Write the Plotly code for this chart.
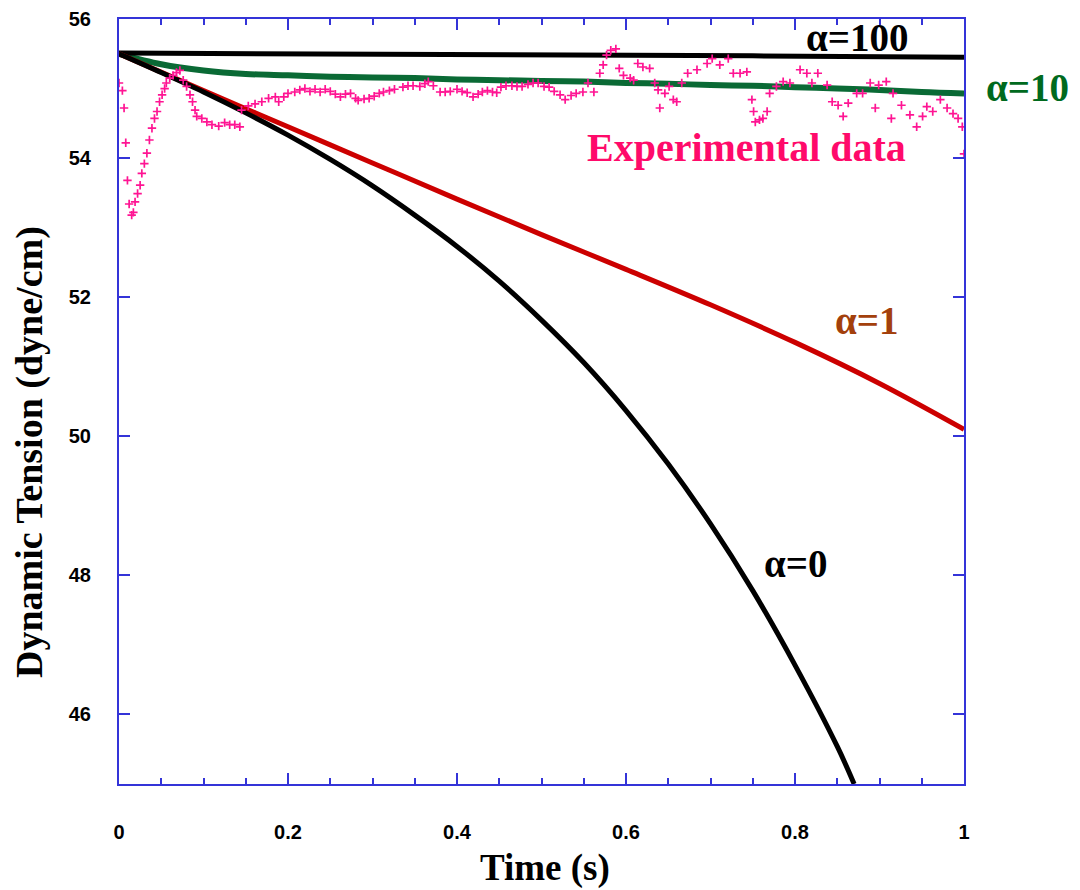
import plotly.graph_objects as go

# ---- data ----
t_grid = [0.00, 0.05, 0.10, 0.15, 0.20, 0.25, 0.30, 0.35, 0.40, 0.45, 0.50,
          0.55, 0.60, 0.65, 0.70, 0.75, 0.80, 0.85, 0.90, 0.95, 1.00]

alpha100_t = [0.0, 0.25, 0.5, 0.75, 1.0]
alpha100_y = [55.51, 55.50, 55.48, 55.47, 55.45]

alpha10_y = [55.50, 55.35, 55.26, 55.21, 55.19, 55.17, 55.16, 55.15, 55.13, 55.12, 55.11,
             55.10, 55.08, 55.07, 55.05, 55.04, 55.02, 55.00, 54.98, 54.95, 54.93]

alpha1_t = [0.0, 0.1, 0.2, 0.3, 0.4, 0.5, 0.6, 0.7, 0.8, 0.9, 1.0]
alpha1_y = [55.50, 54.97, 54.45, 53.93, 53.41, 52.90, 52.40, 51.89, 51.35, 50.76, 50.10]

alpha0_t = [0.00, 0.05, 0.10, 0.15, 0.20, 0.25, 0.30, 0.35, 0.40, 0.45, 0.50,
            0.55, 0.60, 0.65, 0.70, 0.75, 0.80, 0.85, 0.87]
alpha0_y = [55.50, 55.23, 54.95, 54.65, 54.33, 53.98, 53.60, 53.18, 52.73, 52.23, 51.67,
            51.06, 50.37, 49.60, 48.74, 47.78, 46.71, 45.54, 45.00]

exp_t = [0.000, 0.004, 0.006, 0.008, 0.010, 0.012, 0.015, 0.017, 0.019, 0.022, 0.025,
         0.027, 0.030, 0.033, 0.036, 0.039, 0.042, 0.045, 0.048, 0.051, 0.054, 0.056,
         0.060, 0.064, 0.068, 0.072, 0.076, 0.080, 0.084, 0.087, 0.090, 0.092, 0.098,
         0.104, 0.110, 0.118, 0.125, 0.131, 0.137, 0.143, 0.145, 0.153, 0.161, 0.169,
         0.177, 0.185, 0.189, 0.195, 0.200, 0.208, 0.214, 0.220, 0.226, 0.232, 0.238,
         0.244, 0.250, 0.256, 0.262, 0.268, 0.274, 0.280, 0.283, 0.290, 0.296, 0.302,
         0.308, 0.313, 0.320, 0.326, 0.336, 0.342, 0.348, 0.356, 0.362, 0.366, 0.372,
         0.380, 0.386, 0.392, 0.400, 0.406, 0.412, 0.419, 0.425, 0.430, 0.436, 0.442,
         0.447, 0.452, 0.458, 0.465, 0.471, 0.477, 0.484, 0.490, 0.496, 0.503, 0.509,
         0.515, 0.522, 0.528, 0.535, 0.541, 0.549, 0.555, 0.562, 0.569, 0.573, 0.577,
         0.582, 0.588, 0.592, 0.597, 0.605, 0.609, 0.614, 0.620, 0.628, 0.634, 0.638,
         0.640, 0.646, 0.651, 0.656, 0.660, 0.666, 0.673, 0.684, 0.696, 0.702, 0.711,
         0.721, 0.727, 0.735, 0.743, 0.749, 0.751, 0.753, 0.758, 0.762, 0.767, 0.770,
         0.778, 0.786, 0.794, 0.806, 0.814, 0.820, 0.827, 0.838, 0.844, 0.851, 0.857,
         0.863, 0.873, 0.880, 0.889, 0.895, 0.899, 0.908, 0.914, 0.916, 0.926, 0.936,
         0.944, 0.951, 0.956, 0.963, 0.972, 0.980, 0.987, 0.993, 0.998, 1.000]
exp_y = [55.08, 54.97, 54.72, 54.22, 53.68, 53.34, 53.18, 53.22, 53.37, 53.49, 53.61,
         53.78, 53.92, 54.07, 54.26, 54.43, 54.57, 54.67, 54.81, 54.91, 55.00, 55.08,
         55.15, 55.19, 55.23, 55.26, 55.12, 55.03, 54.91, 54.81, 54.69, 54.60, 54.57,
         54.52, 54.48, 54.46, 54.51, 54.48, 54.48, 54.45, 54.69, 54.75, 54.78, 54.81,
         54.86, 54.88, 54.81, 54.88, 54.93, 54.95, 54.98, 55.00, 54.96, 54.99, 54.95,
         54.99, 54.96, 54.92, 54.88, 54.92, 54.93, 54.86, 54.83, 54.85, 54.86, 54.89,
         54.93, 54.95, 54.97, 54.99, 55.02, 55.04, 55.04, 55.03, 55.07, 55.10, 55.04,
         54.95, 54.95, 54.96, 54.99, 54.96, 54.94, 54.88, 54.92, 54.95, 54.97, 54.95,
         54.94, 55.02, 55.04, 55.04, 55.03, 55.03, 55.06, 55.08, 55.08, 55.03, 55.02,
         54.96, 54.91, 54.84, 54.90, 54.93, 54.95, 55.08, 54.95, 55.22, 55.34, 55.48,
         55.55, 55.57, 55.29, 55.19, 55.15, 55.12, 55.36, 55.31, 55.29, 55.08, 54.98,
         54.72, 54.93, 55.03, 54.84, 54.81, 55.08, 55.22, 55.27, 55.36, 55.43, 55.34,
         55.43, 55.22, 55.22, 55.24, 54.84, 54.67, 54.52, 54.55, 54.57, 54.67, 54.93,
         55.03, 55.10, 55.08, 55.27, 55.22, 55.08, 55.22, 55.05, 54.81, 54.76, 54.60,
         54.79, 54.93, 54.93, 55.08, 54.72, 55.05, 55.10, 54.57, 54.93, 54.76, 54.62,
         54.45, 54.60, 54.74, 54.67, 54.84, 54.72, 54.64, 54.57, 54.45, 54.06]

x_ticks = [0, 0.2, 0.4, 0.6, 0.8, 1]
y_ticks = [46, 48, 50, 52, 54, 56]

AXIS_BLUE = "#3434d8"
SERIF = "Liberation Serif, Times New Roman, serif"

# page offset of the default html body margin
OFF = 8
# plot-area pixel box in the photographed page
L, R, T, B = 119, 964, 19, 784


def px_to_paper(px, py):
    return (px - L) / (R - L), (B - py) / (B - T)


fig = go.Figure()
fig.add_trace(go.Scatter(x=t_grid, y=alpha10_y, mode="lines",
                         line=dict(color="#0a6a35", width=6, shape="spline"), showlegend=False))
fig.add_trace(go.Scatter(x=alpha100_t, y=alpha100_y, mode="lines",
                         line=dict(color="#000000", width=5), showlegend=False))
fig.add_trace(go.Scatter(x=alpha1_t, y=alpha1_y, mode="lines",
                         line=dict(color="#cc0000", width=5, shape="spline"), showlegend=False))
fig.add_trace(go.Scatter(x=alpha0_t, y=alpha0_y, mode="lines",
                         line=dict(color="#000000", width=5, shape="spline"), showlegend=False))
fig.add_trace(go.Scatter(x=exp_t, y=exp_y, mode="markers",
                         marker=dict(symbol="cross-thin", size=6, color="#ff1493",
                                     line=dict(color="#ff1493", width=1.7)),
                         showlegend=False))

labels = [
    ("α=100", 857, 37, "#000000", 39),
    ("α=10", 1027, 87, "#006a1e", 39),
    ("Experimental data", 746, 148, "#ff0a6a", 40),
    ("α=1", 867, 320, "#a3400c", 39),
    ("α=0", 796, 563, "#000000", 39),
]
for txt, px, py, col, fs in labels:
    ax, ay = px_to_paper(px, py)
    fig.add_annotation(x=ax, y=ay, xref="paper", yref="paper",
                       text="<b>%s</b>" % txt, showarrow=False,
                       font=dict(family=SERIF, size=fs, color=col),
                       xanchor="center", yanchor="middle")

# axis titles
ax, ay = px_to_paper(545, 868)
fig.add_annotation(x=ax, y=ay, xref="paper", yref="paper",
                   text="<b>Time (s)</b>", showarrow=False,
                   font=dict(family=SERIF, size=37, color="#000000"),
                   xanchor="center", yanchor="middle")
ax, ay = px_to_paper(29, 452)
fig.add_annotation(x=ax, y=ay, xref="paper", yref="paper",
                   text="<b>Dynamic Tension (dyne/cm)</b>", showarrow=False, textangle=-90,
                   font=dict(family=SERIF, size=38, color="#000000"),
                   xanchor="center", yanchor="middle")

tickfont = dict(family="Liberation Sans, Arial, sans-serif", size=20, color="#000000",
                weight="bold")
fig.update_xaxes(range=[0, 1], tickvals=x_ticks, ticktext=[str(v) for v in x_ticks],
                 ticks="inside", ticklen=11, tickwidth=2, tickcolor=AXIS_BLUE,
                 minor=dict(dtick=0.05, tick0=0, ticks="inside", ticklen=6, tickwidth=2,
                            tickcolor=AXIS_BLUE, showgrid=False),
                 showline=True, linecolor=AXIS_BLUE, linewidth=2, mirror="ticks",
                 showgrid=False, zeroline=False, tickfont=tickfont, ticklabelstandoff=29,
                 automargin=False)
fig.update_yaxes(range=[45, 56], tickvals=y_ticks, ticktext=[str(v) for v in y_ticks],
                 ticks="inside", ticklen=11, tickwidth=2, tickcolor=AXIS_BLUE,
                 showline=True, linecolor=AXIS_BLUE, linewidth=2, mirror="ticks",
                 showgrid=False, zeroline=False, tickfont=tickfont, ticklabelstandoff=22,
                 automargin=False)

fig.update_layout(width=1080 - OFF, height=890 - OFF, plot_bgcolor="white",
                  paper_bgcolor="white",
                  margin=dict(l=L - OFF, r=1080 - R, t=T - OFF, b=890 - B),
                  showlegend=False)

fig.write_html("out.html")
